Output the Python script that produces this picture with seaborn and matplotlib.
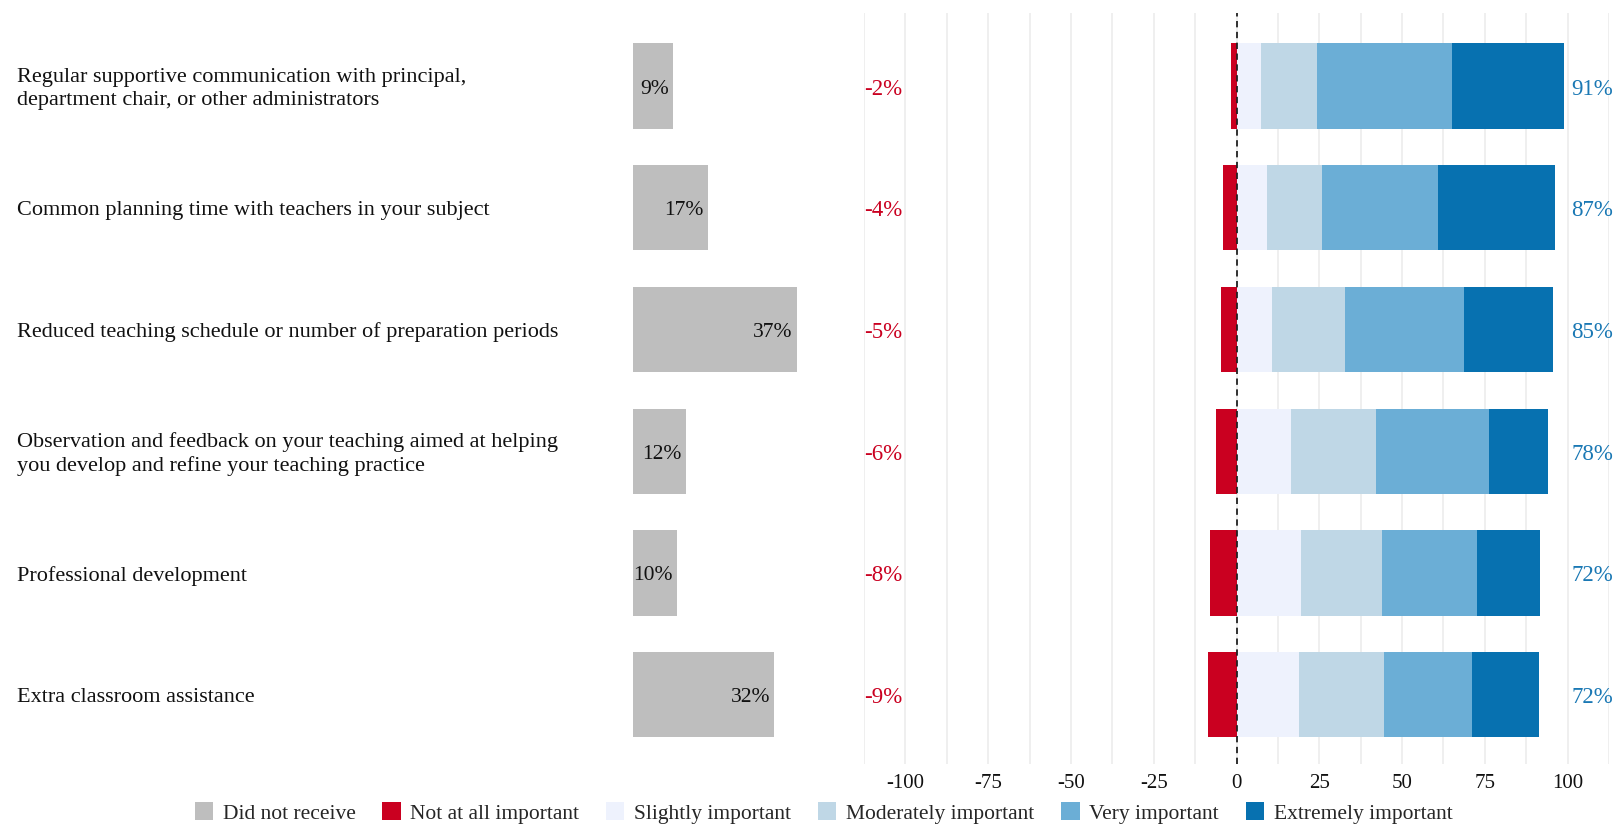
import numpy as np
import pandas as pd
import matplotlib
matplotlib.use("Agg")
import matplotlib.pyplot as plt
import seaborn as sns
from matplotlib.transforms import blended_transform_factory
from matplotlib.patches import Patch
from matplotlib.ticker import MultipleLocator

# ---- data -------------------------------------------------------------
supports = [
    "Regular supportive communication with principal,\ndepartment chair, or other administrators",
    "Common planning time with teachers in your subject",
    "Reduced teaching schedule or number of preparation periods",
    "Observation and feedback on your teaching aimed at helping\nyou develop and refine your teaching practice",
    "Professional development",
    "Extra classroom assistance",
]
did_not_receive = [9, 17, 37, 12, 10, 32]
not_at_all = [1.6, 4.1, 4.7, 6.1, 8.1, 8.7]
slightly = [7.4, 9.2, 10.7, 16.4, 19.5, 18.9]
moderately = [16.9, 16.6, 22.1, 25.8, 24.5, 25.5]
very = [40.9, 35.1, 36.0, 34.2, 28.6, 26.6]
extremely = [33.6, 35.2, 26.7, 17.6, 19.2, 20.3]

legend_labels = ["Did not receive", "Not at all important", "Slightly important",
                 "Moderately important", "Very important", "Extremely important"]
colors = ["#bebebe", "#ca0020", "#eef2fd", "#bfd7e6", "#6baed6", "#0771b0"]
red_text = "#ca0020"
blue_text = "#1a78b4"

# ---- styling ----------------------------------------------------------
sns.set_theme(style="white")
plt.rcParams["font.family"] = ["Liberation Serif", "DejaVu Serif"]
plt.rcParams["axes.unicode_minus"] = False

W, H = 1619, 825
fig = plt.figure(figsize=(W / 100, H / 100), dpi=100)

df = pd.DataFrame({
    "support": supports,
    "none": did_not_receive,
    "neg": [-v for v in not_at_all],
    "s": slightly,
    "sm": np.add(slightly, moderately),
    "smv": np.add(np.add(slightly, moderately), very),
    "all": np.add(np.add(np.add(slightly, moderately), very), extremely),
})
df["important"] = np.add(np.add(moderately, very), extremely)

ax_top, ax_bot = 13, 764
ylim = (5.57, -0.6)
bar_w = 0.7
drop = -2.2  # small downward nudge for text labels (points)


def fig_rect(x0, x1):
    return [x0 / W, (H - ax_bot) / H, (x1 - x0) / W, (ax_bot - ax_top) / H]


# ---- "did not receive" panel -------------------------------------------
ax_g = fig.add_axes(fig_rect(633, 854))
sns.barplot(data=df, x="none", y="support", orient="h", color=colors[0],
            saturation=1, width=bar_w, linewidth=0, ax=ax_g)
ax_g.set_xlim(0, 50)
ax_g.set_ylim(*ylim)
ax_g.axis("off")
for i, v in enumerate(df["none"]):
    ax_g.annotate(f"{v}%", xy=(v, i), xytext=(-3, drop), textcoords="offset points",
                  ha="right", va="center", fontsize=15.5, color="#111111")

# category labels on the far left
tr = blended_transform_factory(fig.transFigure, ax_g.transData)
for i, lab in enumerate(supports):
    ax_g.annotate(lab, xy=(17 / W, i), xycoords=tr, xytext=(0, drop),
                  textcoords="offset points", ha="left", va="center",
                  fontsize=16, linespacing=1.25, color="#111111")

# ---- diverging importance panel ----------------------------------------
ax_d = fig.add_axes(fig_rect(864, 1609))
layers = [("all", colors[5]), ("smv", colors[4]), ("sm", colors[3]),
          ("s", colors[2]), ("neg", colors[1])]
for col, c in layers:
    sns.barplot(data=df, x=col, y="support", orient="h", color=c,
                saturation=1, width=bar_w, linewidth=0, ax=ax_d)

ax_d.set_xlim(-112.5, 112.5)
ax_d.set_ylim(*ylim)
ax_d.xaxis.set_major_locator(MultipleLocator(25))
ax_d.xaxis.set_minor_locator(MultipleLocator(12.5))
ax_d.grid(axis="x", which="both", color="#ebebeb", linewidth=1.1)
ax_d.set_axisbelow(True)
ax_d.axvline(0, color="#222222", linestyle=(0, (3.5, 2.5)), linewidth=1.3, zorder=5)
for sp in ax_d.spines.values():
    sp.set_visible(False)
ax_d.tick_params(left=False, labelleft=False, bottom=False, which="both",
                 labelsize=15, pad=1, colors="#111111")
ax_d.set_xlabel("")
ax_d.set_ylabel("")

for i, (n, imp) in enumerate(zip(not_at_all, df["important"])):
    ax_d.annotate(f"-{round(n)}%", xy=(-112.5, i), xytext=(0, drop),
                  textcoords="offset points", ha="left", va="center",
                  fontsize=16.5, color=red_text)
    ax_d.annotate(f"{round(imp)}%", xy=(101.2, i), xytext=(0, drop),
                  textcoords="offset points", ha="left", va="center",
                  fontsize=16.5, color=blue_text)

# ---- legend -------------------------------------------------------------
handles = [Patch(facecolor=c, edgecolor="none") for c in colors]
fig.legend(handles, legend_labels, loc="center", bbox_to_anchor=(823.5 / W, 12 / H),
           ncol=6, frameon=False, fontsize=15.5, handlelength=0.85,
           handleheight=0.85, handletextpad=0.45, columnspacing=1.25,
           borderaxespad=0, borderpad=0)

fig.savefig("out.png", dpi=100, facecolor="white")
